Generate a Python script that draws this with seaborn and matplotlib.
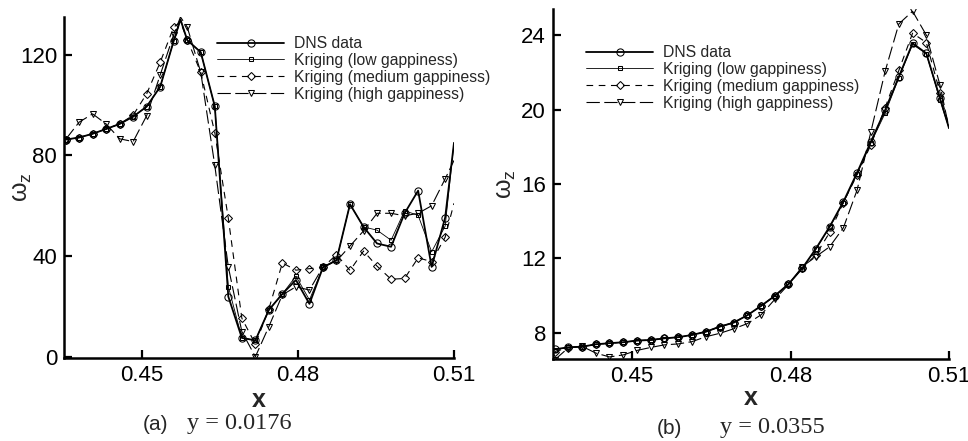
import matplotlib
matplotlib.use("Agg")
import matplotlib.pyplot as plt
import seaborn as sns

# ---------------- data ----------------
# left panel (y = 0.0176); index 9 is an extra line vertex at the peak, last is the end point x=0.51
x_left = [0.4353, 0.4379, 0.4405, 0.4431, 0.4457, 0.4483, 0.4509, 0.4535, 0.4561, 0.4574,
          0.4587, 0.4613, 0.4640, 0.4666, 0.4692, 0.4718, 0.4744, 0.4770, 0.4796, 0.4822,
          0.4848, 0.4874, 0.4900, 0.4926, 0.4952, 0.4979, 0.5005, 0.5031, 0.5057, 0.5083, 0.5100]
dns_left = [86.3, 87.1, 88.6, 90.5, 92.5, 95.4, 99.4, 107.3, 125.5, 134.0,
            125.8, 121.0, 99.5, 23.9, 7.5, 6.5, 18.6, 25.0, 30.5, 21.0,
            35.5, 38.4, 60.6, 51.6, 45.0, 43.7, 57.0, 66.0, 35.7, 55.3, 85.0]
low_left = [86.3, 87.1, 88.6, 90.5, 92.5, 95.4, 99.4, 107.3, 125.5, 134.0,
            125.8, 121.0, 99.5, 27.9, 7.5, 6.5, 18.6, 25.0, 32.0, 22.6,
            35.5, 38.4, 60.6, 51.6, 50.3, 46.3, 58.0, 56.2, 41.7, 51.9, 85.0]
med_left = [86.3, 87.1, 88.6, 90.5, 92.5, 96.0, 104.5, 117.0, 131.0, 133.0,
            126.0, 113.0, 89.0, 55.0, 15.3, 5.0, 19.0, 37.3, 34.4, 35.0,
            35.5, 40.6, 34.3, 42.0, 36.0, 30.8, 31.1, 39.3, 37.8, 47.5, 61.0]
high_left = [86.3, 93.2, 96.5, 92.5, 86.6, 85.5, 95.8, 112.0, 128.0, 135.0,
             131.0, 113.0, 76.0, 35.7, 10.0, 0.0, 12.0, 24.6, 27.8, 26.5,
             35.7, 38.0, 44.0, 50.0, 57.0, 57.0, 56.0, 57.0, 60.0, 70.7, 78.0]

# right panel (y = 0.0355); last is the end point x=0.51
x_right = [0.4353, 0.4379, 0.4405, 0.4431, 0.4457, 0.4483, 0.4509, 0.4535, 0.4561, 0.4587,
           0.4613, 0.4640, 0.4666, 0.4692, 0.4718, 0.4744, 0.4770, 0.4796, 0.4822, 0.4848,
           0.4874, 0.4900, 0.4926, 0.4952, 0.4979, 0.5005, 0.5031, 0.5057, 0.5083, 0.5100]
dns_right = [7.12, 7.23, 7.26, 7.39, 7.45, 7.50, 7.59, 7.62, 7.71, 7.77,
             7.89, 8.07, 8.34, 8.55, 8.95, 9.45, 9.99, 10.63, 11.47, 12.53,
             13.71, 15.05, 16.61, 18.27, 19.97, 21.76, 23.56, 23.02, 20.60, 19.00]
low_right = [7.10, 7.22, 7.26, 7.38, 7.45, 7.50, 7.58, 7.62, 7.70, 7.77,
             7.90, 8.07, 8.33, 8.56, 8.94, 9.44, 10.00, 10.62, 11.46, 12.50,
             13.68, 15.00, 16.55, 18.20, 19.80, 21.70, 23.50, 23.00, 20.50, 19.00]
med_right = [7.00, 7.20, 7.26, 7.39, 7.45, 7.50, 7.59, 7.62, 7.71, 7.77,
             7.89, 8.07, 8.34, 8.55, 8.95, 9.45, 9.99, 10.63, 11.47, 12.20,
             13.40, 15.00, 16.50, 18.10, 20.10, 22.10, 24.10, 23.60, 20.90, 19.10]
high_right = [6.55, 7.20, 7.28, 6.92, 6.71, 6.82, 7.06, 7.22, 7.36, 7.41,
              7.53, 7.80, 7.98, 8.22, 8.50, 8.97, 9.80, 10.60, 11.56, 12.10,
              12.63, 13.65, 15.68, 18.80, 22.05, 24.60, 25.28, 24.00, 21.30, 19.00]

labels = ["DNS data", "Kriging (low gappiness)",
          "Kriging (medium gappiness)", "Kriging (high gappiness)"]
xticks = [0.45, 0.48, 0.51]
yticks_left = [0, 40, 80, 120]
yticks_right = [8, 12, 16, 20, 24]

# ---------------- style ----------------
sns.set_style("ticks")
plt.rcParams["font.family"] = ["Liberation Sans", "DejaVu Sans"]
plt.rcParams["mathtext.fontset"] = "custom"
plt.rcParams["mathtext.rm"] = "Liberation Sans"
plt.rcParams["mathtext.it"] = "Liberation Sans"

styles = [
    dict(lw=1.3, linestyle="-", marker="o", markersize=5.2),
    dict(lw=0.6, linestyle="-", marker="s", markersize=3.0),
    dict(lw=0.8, linestyle=(0, (6, 5)), marker="D", markersize=3.8),
    dict(lw=0.8, linestyle=(0, (12, 4)), marker="v", markersize=4.0),
]

fig = plt.figure(figsize=(9.68, 4.41), dpi=100)
W, H = 968.0, 441.0
axL = fig.add_axes([64 / W, 1 - 358 / H, 390 / W, 341 / H])
axR = fig.add_axes([553 / W, 1 - 359 / H, 396 / W, 350 / H])

left_marks = [k for k in range(len(x_left) - 1) if k != 9]
right_marks = list(range(len(x_right) - 1))

for ax, xs, series, marks in [
    (axL, x_left, [dns_left, low_left, med_left, high_left], left_marks),
    (axR, x_right, [dns_right, low_right, med_right, high_right], right_marks),
]:
    for ys, lab, st in zip(series, labels, styles):
        sns.lineplot(x=xs, y=ys, ax=ax, color="black", estimator=None, sort=False,
                     label=lab, mfc="none", mec="black", mew=0.75,
                     markevery=marks, **st)

def finish(ax, ylim, yticks, lab_x, xlab_frac, leg_anchor):
    ax.set_xlim(0.435, 0.51)
    ax.set_ylim(*ylim)
    ax.set_xticks(xticks)
    ax.set_xticklabels(["0.45", "0.48", "0.51"])
    ax.set_yticks(yticks)
    ax.set_yticklabels([str(v) for v in yticks])
    sns.despine(ax=ax)
    for s in ["left", "bottom"]:
        ax.spines[s].set_linewidth(1.8)
        ax.spines[s].set_color("black")
    ax.tick_params(direction="in", length=6, width=1.6, labelsize=16, pad=5,
                   colors="black")
    ax.set_xlabel("x", fontsize=18, fontweight="bold")
    ax.xaxis.label.set_va("center")
    ax.xaxis.set_label_coords(0.5, xlab_frac)
    ax.set_ylabel(r"$\omega_z$", fontsize=18)
    ax.yaxis.label.set_va("center")
    ax.yaxis.set_label_coords(lab_x, 0.5)
    h, l = ax.get_legend_handles_labels()
    ax.legend(h, l, loc="upper left", bbox_to_anchor=leg_anchor,
              bbox_transform=fig.transFigure, frameon=False, fontsize=11.3,
              handlelength=4.3, handletextpad=0.6, labelspacing=0.12,
              borderpad=0, borderaxespad=0, numpoints=1)

finish(axL, (-0.5, 135), yticks_left, -42 / 390, -42 / 341, (217 / W, 1 - 36 / H))
finish(axR, (6.6, 25.4), yticks_right, -47 / 396, -39 / 350, (586 / W, 1 - 45 / H))

tag = dict(family=["Liberation Sans", "DejaVu Sans"], fontsize=15, va="center")
cap = dict(family=["Liberation Serif", "DejaVu Serif"], fontsize=17.5, va="center")
fig.text(143 / W, 1 - 425 / H, "(a)", **tag)
fig.text(187 / W, 1 - 423 / H, "y = 0.0176", **cap)
fig.text(657 / W, 1 - 429 / H, "(b)", **tag)
fig.text(720 / W, 1 - 427 / H, "y = 0.0355", **cap)

fig.savefig("out.png", dpi=100)
